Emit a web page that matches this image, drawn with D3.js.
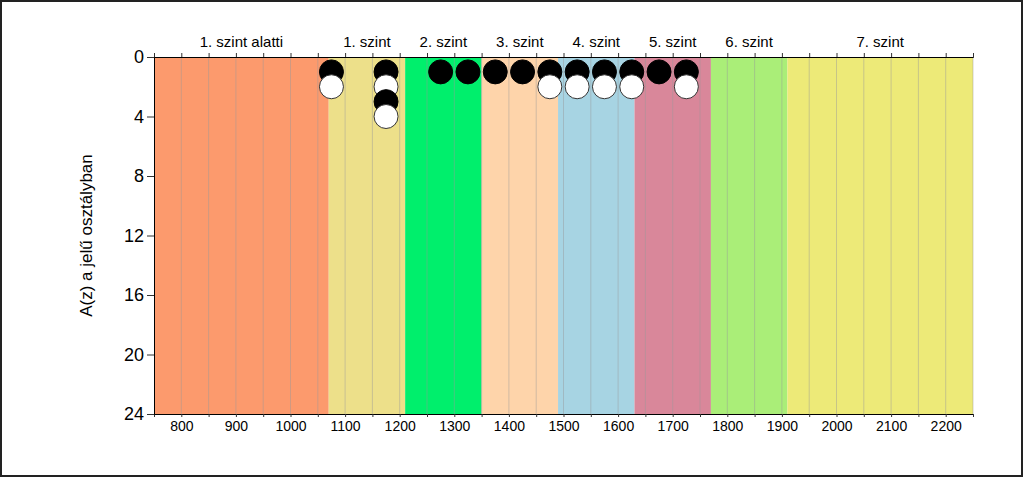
<!DOCTYPE html>
<html><head><meta charset="utf-8">
<script src="https://cdn.jsdelivr.net/npm/d3@7"></script>
<style>body{margin:0;background:#fff}svg{display:block;font-family:Arial,"Liberation Sans",sans-serif}</style>
</head><body><svg id="c" width="1024" height="478"></svg>
<script>
const bandNames = ["1. szint alatti","1. szint","2. szint","3. szint","4. szint","5. szint","6. szint","7. szint"];
const bandStarts = [750,1070,1210,1350,1490,1630,1770,1910];
const bandEnds = [1070,1210,1350,1490,1630,1770,1910,2250];
const bandColors = ["#FC9A6D","#EDE08A","#00EF6C","#FED4AA","#A7D4E3","#D9879A","#AAEE78","#EDEA78"];
const xTicks = [800,900,1000,1100,1200,1300,1400,1500,1600,1700,1800,1900,2000,2100,2200];
const yTicks = [0,4,8,12,16,20,24];
const dotScores = [1075,1075,1175,1175,1175,1175,1275,1325,1375,1425,1475,1475,1525,1525,1575,1575,1625,1625,1675,1725,1725];
const dotRanks  = [1,2,1,2,3,4,1,1,1,1,1,2,1,2,1,2,1,2,1,1,2];
const dotGroups = ["a","b","a","b","a","b","a","a","a","a","a","b","a","b","a","b","a","b","a","a","b"];

const svg = d3.select("#c");
const L=154, R=973, T=57, B=414;
const x = d3.scaleLinear().domain([750,2250]).range([L,R]);
const y = d3.scaleLinear().domain([0,24]).range([T,B]);

svg.append("rect").attr("x",1).attr("y",1).attr("width",1021).attr("height",475)
  .attr("fill","none").attr("stroke","#222").attr("stroke-width",2);

svg.append("g").selectAll("rect").data(bandNames).join("rect")
  .attr("x",(d,i)=>x(bandStarts[i])).attr("y",T)
  .attr("width",(d,i)=>x(bandEnds[i])-x(bandStarts[i])).attr("height",B-T)
  .attr("fill",(d,i)=>bandColors[i]);

const grid = d3.range(800,2251,50);
svg.append("g").selectAll("line").data(grid).join("line")
  .attr("x1",d=>x(d)).attr("x2",d=>x(d)).attr("y1",T).attr("y2",B)
  .attr("stroke","#999").attr("stroke-opacity",0.45).attr("stroke-width",1);

// top axis
const topAx = svg.append("g").attr("transform",`translate(0,${T})`)
  .call(d3.axisTop(x).tickValues(d3.range(750,2251,50)).tickSize(4).tickFormat(""));
topAx.select(".domain").attr("stroke","#000");
topAx.selectAll(".tick line").attr("stroke","#333");
svg.append("g").selectAll("text").data(bandNames).join("text")
  .attr("x",(d,i)=>x((bandStarts[i]+bandEnds[i])/2)).attr("y",47)
  .attr("text-anchor","middle").attr("font-size",15).attr("fill","#000").text(d=>d);

// bottom axis
const botAx = svg.append("g").attr("transform",`translate(0,${B})`)
  .call(d3.axisBottom(x).tickValues(d3.range(750,2251,50)).tickSize(3)
    .tickFormat(d=>xTicks.includes(d)?d:""));
botAx.select(".domain").attr("stroke","#000");
botAx.selectAll(".tick line").attr("stroke","#333");
botAx.selectAll("text").attr("font-size",14).attr("fill","#000").attr("dy","0.95em").attr("y",4);

// left axis
const leftAx = svg.append("g").attr("transform",`translate(${L},0)`)
  .call(d3.axisLeft(y).tickValues(yTicks).tickSize(7).tickPadding(3));
leftAx.select(".domain").attr("stroke","#000");
leftAx.selectAll(".tick line").attr("stroke","#333");
leftAx.selectAll("text").attr("font-size",18).attr("fill","#000");

svg.append("text").attr("transform",`translate(92,${(T+B)/2}) rotate(-90)`)
  .attr("text-anchor","middle").attr("font-size",17).attr("fill","#000").text("A(z) a jelű osztályban");

// dots
const idx = d3.range(dotScores.length).sort((a,b)=>dotRanks[a]-dotRanks[b] || a-b);
svg.append("g").selectAll("circle").data(idx).join("circle")
  .attr("cx",i=>x(dotScores[i])).attr("cy",i=>y(dotRanks[i])).attr("r",12)
  .attr("fill",i=>dotGroups[i]==="a"?"#000":"#fff")
  .attr("stroke",i=>dotGroups[i]==="a"?"#000":"#333").attr("stroke-width",1);
</script></body></html>
